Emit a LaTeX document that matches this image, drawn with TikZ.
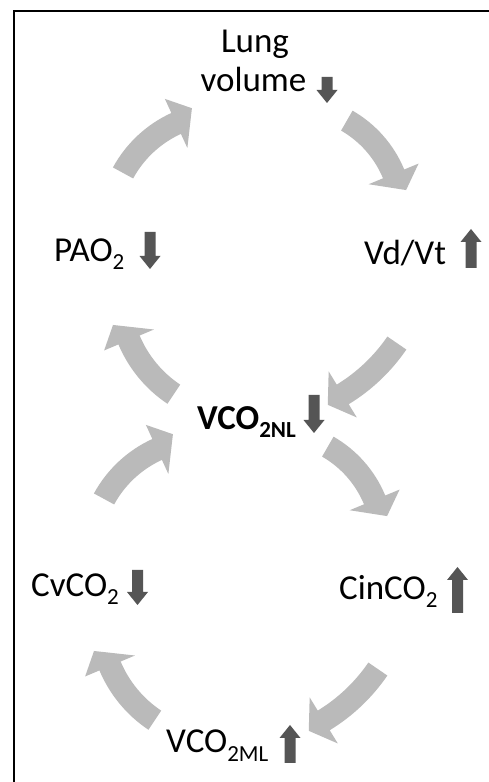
\documentclass[tikz,border=0pt]{standalone}
\usepackage{fontspec}
\setmainfont{Carlito}
\definecolor{blockgray}{RGB}{186,186,186}
\definecolor{markgray}{RGB}{85,85,85}

% lowered subscript in the label font
\newcommand{\lowsub}[1]{\raisebox{-8pt}{\fontsize{23}{23}\selectfont #1}}

% curved block arrow: centre, radius, tail angle, head-base angle, tip angle, tip radius
\newcommand{\bentarrow}[6]{%
  \pgfmathsetmacro\rin{#2-11.5}%
  \pgfmathsetmacro\rout{#2+11.5}%
  \pgfmathsetmacro\hin{#2-27}%
  \pgfmathsetmacro\hout{#2+27}%
  \fill[blockgray] ([shift={(#3:\rin pt)}]#1) arc[start angle=#3, end angle=#4, radius=\rin pt]
    -- ([shift={(#4:\hin pt)}]#1) -- ([shift={(#5:#6 pt)}]#1)
    -- ([shift={(#4:\hout pt)}]#1) -- ([shift={(#4:\rout pt)}]#1)
    arc[start angle=#4, end angle=#3, radius=\rout pt] -- cycle;}

% small trend arrows: x of axis, y of top (or bottom), total length
\newcommand{\dropmark}[3]{%
  \fill[markgray] (#1-5.5,#2) -- (#1+5.5,#2) -- (#1+5.5,#2-#3+13) -- (#1+10.5,#2-#3+13)
    -- (#1,#2-#3) -- (#1-10.5,#2-#3+13) -- (#1-5.5,#2-#3+13) -- cycle;}
\newcommand{\risemark}[3]{%
  \fill[markgray] (#1-5.5,#2) -- (#1+5.5,#2) -- (#1+5.5,#2+#3-13) -- (#1+10.5,#2+#3-13)
    -- (#1,#2+#3) -- (#1-10.5,#2+#3-13) -- (#1-5.5,#2+#3-13) -- cycle;}

\begin{document}
\begin{tikzpicture}[x=1pt, y=1pt,
  lbl/.style={inner sep=0pt, font=\fontsize{35}{41}\selectfont},
  boldlbl/.style={inner sep=0pt, font=\fontsize{35}{41}\selectfont\bfseries}]
\useasboundingbox (0,0) rectangle (489,782);
\fill[white] (0,0) rectangle (489,782);

% frame (left and top edges)
\draw[line width=1.6pt] (14,0) -- (14,771) -- (489,771);

% centres of the curved arrows
\coordinate (c1) at (224,554);
\coordinate (c2) at (292,566);
\coordinate (c3) at (250,539.5);
\coordinate (c4) at (241.5,489.3);
\coordinate (c5) at (205,228);
\coordinate (c6) at (273,240);
\coordinate (c7) at (231,213.5);
\coordinate (c8) at (222.5,163.3);

% upper loop
\bentarrow{c1}{115}{151.4}{114.6}{105}{124}
\bentarrow{c2}{110}{60.1}{22.5}{12.8}{117}
\bentarrow{c3}{178}{-34.4}{-58.6}{-64.4}{180}
\bentarrow{c4}{122}{236.3}{202.8}{194.1}{132.5}
% lower loop
\bentarrow{c5}{115}{151.4}{114.6}{105}{124}
\bentarrow{c6}{110}{60.1}{22.5}{12.8}{117}
\bentarrow{c7}{178}{-34.4}{-58.6}{-64.4}{180}
\bentarrow{c8}{122}{236.3}{202.8}{194.1}{132.5}

% labels
\node[lbl, anchor=base] (lung) at (255,729) {Lung};
\node[lbl, anchor=base] (volume) at (253.5,690) {volume};
\node[lbl, anchor=base west] (pao) at (54,520) {PAO\lowsub{2}};
\node[lbl, anchor=base west] (vdvt) at (364,517) {Vd/Vt};
\node[boldlbl, anchor=base west] (vnl) at (197,352) {VCO\lowsub{2NL}};
\node[lbl, anchor=base west] (cv) at (31,185) {CvCO\lowsub{2}};
\node[lbl, anchor=base west] (cin) at (339,182) {CinCO\lowsub{2}};
\node[lbl, anchor=base west] (vml) at (166,29) {VCO\lowsub{2ML}};

% trend marks
\dropmark{327}{705}{26}
\dropmark{150}{550}{37}
\risemark{471}{514}{39}
\dropmark{314}{387}{38}
\dropmark{137.5}{212}{35}
\risemark{457.5}{169}{46}
\risemark{290}{19}{38}
\end{tikzpicture}
\end{document}
